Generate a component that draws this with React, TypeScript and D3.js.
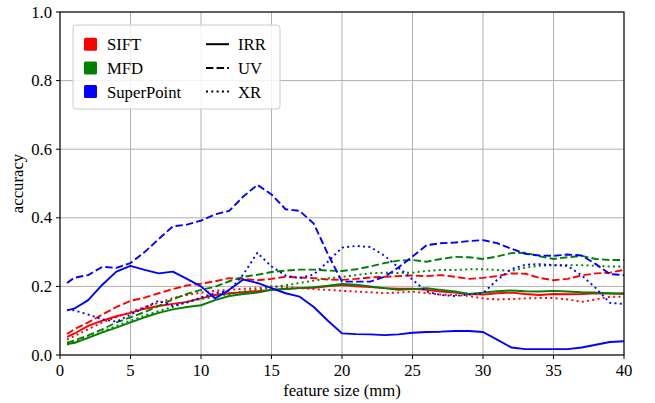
import React from 'react';
import * as d3 from 'd3';

const xs = [0.5, 1, 2, 3, 4, 5, 6, 7, 8, 9, 10, 11, 12, 13, 14, 15, 16, 17, 18, 19, 20,
  21, 22, 23, 24, 25, 26, 27, 28, 29, 30, 31, 32, 33, 34, 35, 36, 37, 38, 39, 40];

const siftIRR = [0.053, 0.062, 0.085, 0.1, 0.113, 0.123, 0.135, 0.143, 0.149, 0.155, 0.165, 0.175, 0.18, 0.183, 0.186, 0.19, 0.192, 0.195, 0.196, 0.2, 0.204,
  0.2, 0.198, 0.195, 0.193, 0.193, 0.19, 0.185, 0.182, 0.178, 0.176, 0.18, 0.182, 0.178, 0.175, 0.178, 0.177, 0.178, 0.18, 0.179, 0.18];
const siftUV = [0.061, 0.075, 0.095, 0.118, 0.14, 0.158, 0.167, 0.18, 0.192, 0.203, 0.208, 0.215, 0.224, 0.222, 0.218, 0.222, 0.228, 0.226, 0.224, 0.22, 0.219,
  0.222, 0.226, 0.228, 0.23, 0.232, 0.23, 0.233, 0.228, 0.222, 0.225, 0.23, 0.238, 0.237, 0.225, 0.218, 0.222, 0.232, 0.238, 0.24, 0.248];
const siftXR = [0.045, 0.055, 0.075, 0.095, 0.11, 0.125, 0.14, 0.152, 0.166, 0.175, 0.182, 0.187, 0.19, 0.193, 0.195, 0.2, 0.198, 0.195, 0.192, 0.19, 0.187,
  0.185, 0.183, 0.18, 0.182, 0.185, 0.18, 0.176, 0.175, 0.172, 0.165, 0.162, 0.163, 0.165, 0.166, 0.166, 0.162, 0.155, 0.162, 0.17, 0.17];

const mfdIRR = [0.032, 0.035, 0.05, 0.066, 0.08, 0.095, 0.11, 0.123, 0.133, 0.14, 0.145, 0.16, 0.172, 0.178, 0.182, 0.19, 0.193, 0.195, 0.198, 0.202, 0.207,
  0.205, 0.2, 0.195, 0.19, 0.192, 0.195, 0.19, 0.185, 0.178, 0.182, 0.186, 0.188, 0.186, 0.185, 0.187, 0.185, 0.183, 0.182, 0.18, 0.178];
const mfdUV = [0.036, 0.042, 0.057, 0.075, 0.095, 0.11, 0.125, 0.143, 0.162, 0.178, 0.19, 0.199, 0.215, 0.228, 0.234, 0.242, 0.246, 0.249, 0.249, 0.246, 0.245,
  0.25, 0.258, 0.268, 0.275, 0.277, 0.272, 0.28, 0.286, 0.285, 0.28, 0.287, 0.297, 0.298, 0.288, 0.28, 0.285, 0.289, 0.28, 0.277, 0.277];
const mfdXR = [0.03, 0.037, 0.052, 0.068, 0.085, 0.1, 0.115, 0.128, 0.14, 0.155, 0.163, 0.17, 0.178, 0.185, 0.19, 0.198, 0.203, 0.21, 0.217, 0.223, 0.228,
  0.233, 0.238, 0.24, 0.239, 0.24, 0.245, 0.248, 0.248, 0.25, 0.25, 0.248, 0.245, 0.255, 0.26, 0.262, 0.262, 0.262, 0.26, 0.258, 0.258];

const spIRR = [0.13, 0.135, 0.16, 0.205, 0.243, 0.26, 0.248, 0.238, 0.243, 0.222, 0.2, 0.165, 0.19, 0.22, 0.21, 0.195, 0.18, 0.17, 0.14, 0.1, 0.063,
  0.061, 0.06, 0.058, 0.06, 0.065, 0.067, 0.068, 0.07, 0.07, 0.067, 0.045, 0.022, 0.017, 0.017, 0.017, 0.017, 0.022, 0.03, 0.038, 0.04];
const spUV = [0.21, 0.225, 0.233, 0.257, 0.254, 0.268, 0.3, 0.338, 0.375, 0.38, 0.392, 0.41, 0.42, 0.462, 0.496, 0.468, 0.425, 0.42, 0.383, 0.294, 0.214,
  0.214, 0.214, 0.228, 0.255, 0.287, 0.32, 0.326, 0.328, 0.332, 0.335, 0.326, 0.31, 0.295, 0.29, 0.289, 0.293, 0.29, 0.265, 0.236, 0.233];
const spXR = [0.131, 0.13, 0.118, 0.104, 0.097, 0.118, 0.138, 0.158, 0.143, 0.153, 0.168, 0.18, 0.187, 0.235, 0.298, 0.258, 0.232, 0.224, 0.235, 0.272, 0.313,
  0.318, 0.315, 0.29, 0.255, 0.22, 0.185, 0.175, 0.172, 0.176, 0.18, 0.219, 0.25, 0.263, 0.265, 0.262, 0.26, 0.232, 0.195, 0.152, 0.149];

const methods = ['SIFT', 'MFD', 'SuperPoint'];
const methodColors = ['#ff0000', '#008000', '#0000ff'];
const modalities = ['IRR', 'UV', 'XR'];
const dashes = ['none', '7.4,3.2', '2,3.3'];

const seriesData = [
  [siftIRR, siftUV, siftXR],
  [mfdIRR, mfdUV, mfdXR],
  [spIRR, spUV, spXR],
];

const xTicks = [0, 5, 10, 15, 20, 25, 30, 35, 40];
const yTicks = [0, 0.2, 0.4, 0.6, 0.8, 1.0];

const W = 655;
const H = 403;
const m = { left: 60, right: 31, top: 12, bottom: 48 };
const txt = { fontFamily: 'Liberation Serif', fontSize: '16.7px' };

export default function App() {
  const x = d3.scaleLinear().domain([0, 40]).range([m.left, W - m.right]);
  const y = d3.scaleLinear().domain([0, 1]).range([H - m.bottom, m.top]);

  const line = d3.line<number>()
    .x((_, i) => x(xs[i]))
    .y(d => y(d));

  const lines: React.ReactElement[] = [];
  // SIFT, MFD, SuperPoint – each in IRR / UV / XR
  seriesData.forEach((group, mi) => {
    group.forEach((vals, si) => {
      lines.push(
        <path key={`${mi}-${si}`} d={line(vals) || ''} fill="none"
          stroke={methodColors[mi]} strokeWidth={1.9}
          strokeDasharray={dashes[si]} strokeLinejoin="round" />
      );
    });
  });

  const x0 = x(0), x1 = x(40), y0 = y(0), y1 = y(1);
  const rowY = [44.2, 67.9, 91.6];

  return (
    <svg width={W} height={H} style={{ position: 'absolute', left: 0, top: 0, background: '#fff' }}>
      {xTicks.map(t => (
        <line key={'gx' + t} x1={x(t)} x2={x(t)} y1={y0} y2={y1} stroke="#b0b0b0" strokeWidth={1} />
      ))}
      {yTicks.map(t => (
        <line key={'gy' + t} x1={x0} x2={x1} y1={y(t)} y2={y(t)} stroke="#b0b0b0" strokeWidth={1} />
      ))}

      <defs>
        <clipPath id="plotclip">
          <rect x={x0} y={y1} width={x1 - x0} height={y0 - y1} />
        </clipPath>
      </defs>
      <g clipPath="url(#plotclip)">{lines}</g>

      <rect x={x0} y={y1} width={x1 - x0} height={y0 - y1} fill="none" stroke="#000" strokeWidth={1.1} />

      {xTicks.map(t => (
        <g key={'tx' + t}>
          <line x1={x(t)} x2={x(t)} y1={y0} y2={y0 + 4} stroke="#000" />
          <text x={x(t)} y={y0 + 21} textAnchor="middle" style={txt}>{t}</text>
        </g>
      ))}
      {yTicks.map(t => (
        <g key={'ty' + t}>
          <line x1={x0 - 4} x2={x0} y1={y(t)} y2={y(t)} stroke="#000" />
          <text x={x0 - 8} y={y(t) + 5.5} textAnchor="end" style={txt}>{t.toFixed(1)}</text>
        </g>
      ))}

      <text x={(x0 + x1) / 2} y={396} textAnchor="middle" style={txt}>feature size (mm)</text>
      <text transform={`translate(23,${(y0 + y1) / 2}) rotate(-90)`} textAnchor="middle" style={txt}>accuracy</text>

      <g>
        <rect x={73} y={25} width={207} height={84} rx={3} fill="#fff" fillOpacity={0.85}
          stroke="#cccccc" strokeWidth={1} />
        {methods.map((name, i) => (
          <g key={name}>
            <rect x={84} y={rowY[i] - 6.5} width={13} height={13} rx={1.5} fill={methodColors[i]} />
            <text x={107} y={rowY[i] + 6} style={txt}>{name}</text>
          </g>
        ))}
        {modalities.map((name, i) => (
          <g key={name}>
            <line x1={206} x2={229} y1={rowY[i]} y2={rowY[i]} stroke="#000"
              strokeWidth={2} strokeDasharray={dashes[i]} />
            <text x={238} y={rowY[i] + 6} style={txt}>{name}</text>
          </g>
        ))}
      </g>
    </svg>
  );
}
